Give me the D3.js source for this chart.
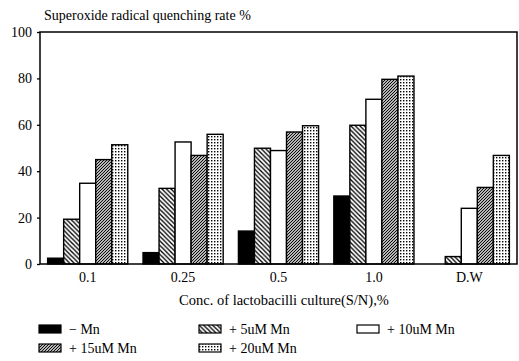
<!DOCTYPE html>
<html><head><meta charset="utf-8">
<script src="https://cdn.jsdelivr.net/npm/d3@7"></script>
<style>body{margin:0;background:#fff}svg{display:block}</style>
</head><body>
<svg id="c" width="519" height="361"></svg>
<script>
const categories = ["0.1","0.25","0.5","1.0","D.W"];
const seriesNames = ["\u2212 Mn","+ 5uM Mn","+ 10uM Mn","+ 15uM Mn","+ 20uM Mn"];
const noMn   = [2.5, 4.9, 14.2, 29.3, 0];
const mn5    = [19.3, 32.6, 49.9, 59.8, 3.2];
const mn10   = [34.8, 52.6, 48.9, 71.0, 24.0];
const mn15   = [45.0, 46.8, 56.9, 79.6, 33.0];
const mn20   = [51.4, 55.9, 59.6, 81.0, 46.8];
const yTicks = [0,20,40,60,80,100];
const series = [noMn, mn5, mn10, mn15, mn20];

const FONT = "'Liberation Serif', 'DejaVu Serif', serif";
const svg = d3.select("#c");
const L=40, R=517, T=32, B=264;
const defs = svg.append("defs");
const p1 = defs.append("pattern").attr("id","hatchBack").attr("patternUnits","userSpaceOnUse").attr("width",4.5).attr("height",4.5);
p1.append("rect").attr("width",4.5).attr("height",4.5).attr("fill","#fff");
p1.append("path").attr("d","M-1,-1 L5.5,5.5 M-1,3.5 L1,5.5 M3.5,-1 L5.5,1").attr("stroke","#000").attr("stroke-width",1.3);
const p2 = defs.append("pattern").attr("id","hatchFwd").attr("patternUnits","userSpaceOnUse").attr("width",3).attr("height",3);
p2.append("rect").attr("width",3).attr("height",3).attr("fill","#fff");
p2.append("path").attr("d","M-1,4 L4,-1 M-1,1 L1,-1 M2,4 L4,2").attr("stroke","#000").attr("stroke-width",1.1);
const p3 = defs.append("pattern").attr("id","dots").attr("patternUnits","userSpaceOnUse").attr("width",3).attr("height",3);
p3.append("rect").attr("width",3).attr("height",3).attr("fill","#fff");
p3.append("rect").attr("x",1).attr("y",1).attr("width",1.4).attr("height",1.4).attr("fill","#000");
const fills = ["#000","url(#hatchBack)","#fff","url(#hatchFwd)","url(#dots)"];

const x0 = d3.scaleBand().domain(categories).range([L,R]).paddingInner(0.16).paddingOuter(0.08);
const x1 = d3.scaleBand().domain(d3.range(5)).range([0,x0.bandwidth()]);
const y = d3.scaleLinear().domain([0,100]).range([B,T]);

categories.forEach((c,ci)=>{
  series.forEach((s,si)=>{
    const v = s[ci];
    if(v<=0) return;
    svg.append("rect").attr("x",x0(c)+x1(si)).attr("y",y(v))
      .attr("width",x1.bandwidth()).attr("height",y(0)-y(v))
      .attr("fill",fills[si]).attr("stroke","#000").attr("stroke-width",1.4);
  });
});

svg.append("rect").attr("x",L).attr("y",T).attr("width",R-L).attr("height",B-T)
  .attr("fill","none").attr("stroke","#000").attr("stroke-width",1.5);

const ya = svg.append("g").attr("transform",`translate(${L},0)`)
  .call(d3.axisLeft(y).tickValues(yTicks).tickSize(3).tickPadding(5));
ya.attr("font-family",FONT).attr("font-size",14);
ya.select(".domain").remove();
ya.selectAll("line").attr("stroke","#000").attr("stroke-width",1.3);
ya.selectAll("text").attr("fill","#000");

const xa = svg.append("g").attr("transform",`translate(0,${B})`)
  .call(d3.axisBottom(x0).tickSize(0).tickPadding(8));
xa.attr("font-family",FONT).attr("font-size",14);
xa.select(".domain").remove();
xa.selectAll("text").attr("fill","#000");

function txt(x,yy,s,size,anchor){
  return svg.append("text").attr("x",x).attr("y",yy).attr("font-family",FONT)
    .attr("font-size",size).attr("text-anchor",anchor||"start").attr("fill","#000").text(s);
}
txt(44,20,"Superoxide radical quenching rate %",14);
txt(284,305,"Conc. of lactobacilli culture(S/N),%",14.5,"middle");

const legPos = [[39,329],[199,329],[357,329],[39,348],[199,348]];
seriesNames.forEach((n,i)=>{
  const [lx,ly]=legPos[i];
  svg.append("rect").attr("x",lx).attr("y",ly-4).attr("width",22).attr("height",8)
    .attr("fill",fills[i]).attr("stroke","#000").attr("stroke-width",1.2);
  txt(lx+30,ly+5,n,14);
});
</script>
</body></html>
